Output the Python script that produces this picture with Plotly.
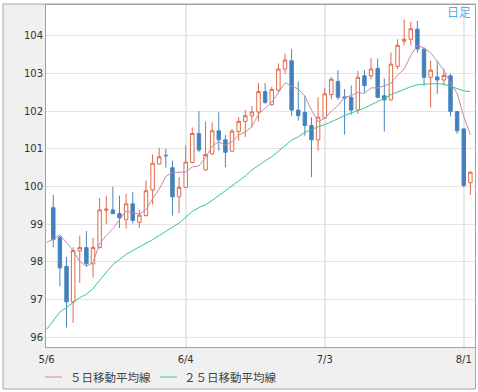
import plotly.graph_objects as go

# ---- data ----
dates = ["5/6", "5/7", "5/8", "5/9", "5/10", "5/13", "5/14", "5/15", "5/16", "5/17",
         "5/20", "5/21", "5/22", "5/23", "5/24", "5/27", "5/28", "5/29", "5/30", "5/31",
         "6/3", "6/4", "6/5", "6/6", "6/7", "6/10", "6/11", "6/12", "6/13", "6/14",
         "6/17", "6/18", "6/19", "6/20", "6/21", "6/24", "6/25", "6/26", "6/27", "6/28",
         "7/1", "7/2", "7/3", "7/4", "7/5", "7/8", "7/9", "7/10", "7/11", "7/12",
         "7/15", "7/16", "7/17", "7/18", "7/19", "7/22", "7/23", "7/24", "7/25", "7/26",
         "7/29", "7/30", "7/31", "8/1", "8/2"]
candle_dates = dates[1:]

opens = [99.44, 98.65, 97.88, 96.94, 98.29, 98.38, 97.95, 98.38, 99.37, 99.38,
         99.28, 99.12, 99.54, 99.05, 99.23, 99.91, 100.60, 100.83, 100.50, 99.73,
         99.98, 100.64, 101.41, 100.44, 100.87, 101.48, 101.24, 100.94, 101.46, 101.73,
         101.88, 101.98, 102.52, 102.17, 102.56, 103.12, 103.34, 102.03, 101.97, 101.62,
         101.24, 101.82, 102.44, 102.79, 102.38, 102.37, 102.03, 102.94, 102.94, 103.14,
         102.41, 102.30, 103.19, 103.86, 103.91, 104.18, 103.65, 102.90, 102.91, 102.83,
         102.94, 101.99, 101.53, 100.10]
highs = [99.78, 98.70, 98.13, 98.39, 98.70, 98.82, 98.64, 99.70, 99.76, 99.99,
         99.76, 99.81, 99.85, 99.39, 100.16, 100.85, 101.03, 101.00, 100.69, 100.25,
         101.09, 101.57, 102.00, 101.73, 101.70, 101.97, 101.37, 101.53, 101.84, 102.03,
         102.14, 102.75, 102.75, 102.65, 103.27, 103.53, 103.65, 102.79, 102.41, 101.84,
         102.37, 102.61, 102.91, 103.09, 102.59, 102.68, 103.07, 103.09, 103.41, 103.40,
         102.87, 103.56, 103.91, 104.44, 104.37, 104.40, 103.69, 103.34, 103.34, 103.13,
         102.99, 101.99, 101.55, 100.40]
lows = [98.39, 97.35, 96.26, 96.38, 97.44, 97.88, 97.58, 98.35, 99.01, 99.27,
        98.90, 98.88, 99.02, 98.90, 99.20, 99.52, 100.58, 100.50, 99.23, 99.29,
        99.96, 100.62, 100.91, 100.42, 100.85, 100.95, 100.51, 100.93, 101.22, 101.32,
        101.57, 101.73, 102.20, 102.15, 102.50, 102.99, 101.88, 101.75, 101.35, 100.25,
        100.95, 101.80, 102.32, 102.30, 101.38, 101.91, 101.93, 102.50, 102.85, 102.34,
        101.46, 102.28, 103.12, 103.75, 103.75, 103.56, 102.68, 102.10, 102.46, 102.68,
        101.86, 101.40, 99.98, 99.78]
closes = [98.59, 97.84, 96.94, 98.30, 98.38, 97.95, 98.38, 99.38, 99.40, 99.28,
          99.17, 99.54, 99.10, 99.24, 99.89, 100.62, 100.79, 100.82, 99.73, 99.98,
          100.65, 101.41, 100.97, 100.85, 101.48, 101.24, 100.91, 101.47, 101.73, 101.88,
          101.98, 102.52, 102.23, 102.58, 103.12, 103.36, 102.03, 101.88, 101.62, 101.24,
          101.84, 102.46, 102.85, 102.37, 102.35, 102.03, 102.90, 102.68, 103.12, 102.37,
          102.30, 103.25, 103.75, 103.91, 104.19, 103.65, 102.90, 103.09, 102.83, 102.95,
          101.99, 101.48, 100.03, 100.38]

ma5 = [98.52, 98.60, 98.72, 98.50, 98.30, 98.01, 97.88, 97.99, 98.48, 98.70,
       98.88, 99.12, 99.35, 99.30, 99.27, 99.39, 99.68, 99.93, 100.27, 100.37,
       100.39, 100.39, 100.52, 100.55, 100.77, 101.07, 101.19, 101.09, 101.19, 101.37,
       101.45, 101.59, 101.92, 102.07, 102.24, 102.49, 102.76, 102.66, 102.59, 102.40,
       102.03, 101.72, 101.81, 102.00, 102.15, 102.37, 102.41, 102.50, 102.47, 102.62,
       102.62, 102.67, 102.74, 102.96, 103.12, 103.48, 103.75, 103.68, 103.55, 103.33,
       103.08, 102.75, 102.47, 101.86, 101.37]
ma25 = [96.21, 96.45, 96.67, 96.79, 96.91, 97.05, 97.14, 97.29, 97.51, 97.73,
        97.93, 98.06, 98.20, 98.30, 98.39, 98.48, 98.59, 98.70, 98.82, 98.92,
        99.03, 99.19, 99.34, 99.44, 99.52, 99.63, 99.76, 99.88, 100.00, 100.13,
        100.28, 100.44, 100.57, 100.68, 100.79, 100.93, 101.09, 101.23, 101.32, 101.44,
        101.51, 101.59, 101.64, 101.71, 101.80, 101.89, 101.95, 102.01, 102.08, 102.17,
        102.25, 102.34, 102.44, 102.52, 102.58, 102.65, 102.70, 102.72, 102.73, 102.73,
        102.72, 102.65, 102.60, 102.54, 102.52]

tick_labels = ["5/6", "6/4", "7/3", "8/1"]
y_ticks = [96, 97, 98, 99, 100, 101, 102, 103, 104]
legend_names = ["５日移動平均線", "２５日移動平均線"]
period_label = "日足"

# ---- figure ----
W, H = 478, 392
L, R, T, B = 46, 3, 5, 45
pw, ph = W - L - R, H - T - B


def px_x(p):
    return (p - L) / pw


def px_y(p):
    return (H - B - p) / ph


PINK = "#c98aa6"
GREEN = "#3cc68a"

fig = go.Figure()
fig.add_trace(go.Candlestick(
    x=candle_dates, open=opens, high=highs, low=lows, close=closes,
    increasing=dict(line=dict(color="#e0694a", width=1), fillcolor="#ffffff"),
    decreasing=dict(line=dict(color="#4a86c0", width=1), fillcolor="#3f80bd"),
    whiskerwidth=0, showlegend=False, hoverinfo="skip"))
fig.add_trace(go.Scatter(x=dates, y=ma5, mode="lines", name=legend_names[0],
                         line=dict(color=PINK, width=1), hoverinfo="skip"))
fig.add_trace(go.Scatter(x=dates, y=ma25, mode="lines", name=legend_names[1],
                         line=dict(color=GREEN, width=1), hoverinfo="skip"))

shapes = [
    dict(type="rect", xref="paper", yref="paper", layer="below",
         x0=px_x(3), x1=px_x(475.5), y0=px_y(389), y1=px_y(4),
         fillcolor="#f0f0f0", line=dict(color="#a8a8a8", width=1)),
    dict(type="rect", xref="paper", yref="paper", layer="below",
         x0=0, x1=1, y0=0, y1=1, fillcolor="#ffffff", line=dict(width=0)),
    dict(type="line", xref="paper", yref="paper", x0=px_x(45), x1=px_x(62),
         y0=px_y(377), y1=px_y(377), line=dict(color=PINK, width=1)),
    dict(type="line", xref="paper", yref="paper", x0=px_x(160), x1=px_x(177),
         y0=px_y(377), y1=px_y(377), line=dict(color=GREEN, width=1)),
]

legend_font = dict(family="Noto Sans CJK JP", size=11.5, color="#444444")
annotations = [
    dict(text=legend_names[0], xref="paper", yref="paper", x=px_x(68), y=px_y(376.5),
         xanchor="left", yanchor="middle", showarrow=False, font=legend_font),
    dict(text=legend_names[1], xref="paper", yref="paper", x=px_x(182), y=px_y(376.5),
         xanchor="left", yanchor="middle", showarrow=False, font=legend_font),
    dict(text=period_label, xref="paper", yref="paper", x=px_x(473), y=px_y(11.5),
         xanchor="right", yanchor="middle", showarrow=False,
         font=dict(family="Noto Sans CJK JP", size=12, color="#4ab0f0")),
]

tick_font = dict(family="DejaVu Sans", size=10, color="#333333")
fig.update_layout(
    width=W, height=H, margin=dict(l=L, r=R, t=T, b=B),
    paper_bgcolor="#ffffff", plot_bgcolor="#ffffff",
    showlegend=False, boxgap=0.25, hovermode=False,
    shapes=shapes, annotations=annotations,
    xaxis=dict(type="category", categoryorder="array", categoryarray=dates,
               range=[-0.1, 64.7], rangeslider=dict(visible=False),
               tickmode="array", tickvals=tick_labels, ticktext=tick_labels,
               showgrid=True, gridcolor="#e8e8e8", gridwidth=2,
               showline=True, linecolor="#a0a0a0", linewidth=1, mirror=True,
               ticks="outside", ticklen=3, tickcolor="rgba(0,0,0,0)",
               tickfont=tick_font, zeroline=False),
    yaxis=dict(range=[95.74, 104.82], tickmode="array", tickvals=y_ticks,
               showgrid=True, gridcolor="#e4e4e4", gridwidth=1,
               showline=True, linecolor="#a0a0a0", linewidth=1, mirror=True,
               ticks="", tickfont=tick_font, zeroline=False),
)

fig.write_html("out.html", config={"displayModeBar": False, "staticPlot": True},
               post_script="document.body.style.margin='0';document.body.style.overflow='hidden';")
